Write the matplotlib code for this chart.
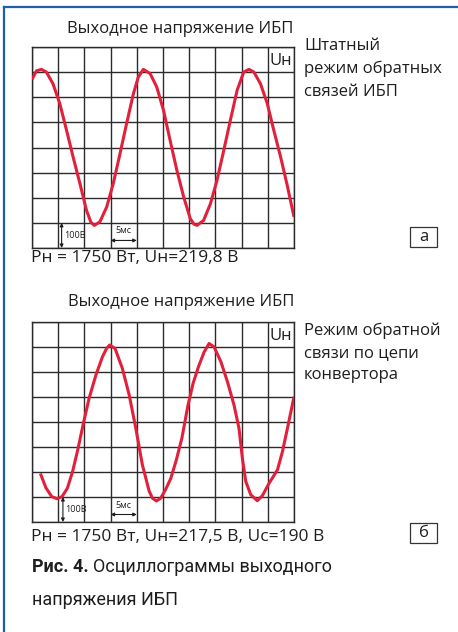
import matplotlib
matplotlib.use("Agg")
import matplotlib.pyplot as plt
from matplotlib.lines import Line2D
from matplotlib.patches import Rectangle

W, H = 458, 632

# curve a (grid units: 10 columns x 8 rows)
xa = [0.0, 0.17, 0.36, 0.55, 0.80, 1.06, 1.32, 1.57, 1.83, 2.08, 2.25, 2.38, 2.59, 2.85, 3.10,
      3.36, 3.61, 3.87, 4.06, 4.25, 4.51, 4.76, 5.02, 5.27, 5.53, 5.79, 6.04, 6.18, 6.30, 6.55,
      6.81, 7.06, 7.32, 7.57, 7.83, 8.08, 8.28, 8.47, 8.72, 8.98, 9.23, 9.49, 9.74, 10.0]
ya = [6.71, 7.05, 7.11, 7.00, 6.54, 5.75, 4.68, 3.62, 2.56, 1.50, 1.02, 0.90, 1.04, 1.63, 2.56,
      3.76, 4.95, 6.14, 6.81, 7.11, 6.94, 6.41, 5.48, 4.29, 3.09, 2.03, 1.17, 0.95, 0.90, 1.10,
      1.76, 2.69, 3.89, 5.08, 6.28, 7.00, 7.11, 7.00, 6.54, 5.75, 4.68, 3.62, 2.50, 1.24]

# curve b
xb = [0.32, 0.53, 0.75, 0.95, 1.15, 1.35, 1.55, 1.75, 1.95, 2.18, 2.44, 2.69, 2.85, 2.97, 3.17,
      3.45, 3.71, 3.96, 4.21, 4.47, 4.60, 4.75, 4.91, 5.10, 5.30, 5.50, 5.72, 5.95, 6.15, 6.35,
      6.57, 6.76, 6.95, 7.21, 7.46, 7.71, 7.90, 8.03, 8.16, 8.35, 8.60, 8.79, 9.05, 9.37, 9.56,
      9.75, 10.0]
yb = [1.94, 1.37, 1.02, 0.93, 1.02, 1.35, 2.02, 2.90, 3.89, 4.95, 5.88, 6.61, 6.95, 7.08, 6.94,
      6.14, 5.08, 3.76, 2.30, 1.24, 0.95, 0.84, 0.95, 1.30, 1.75, 2.45, 3.35, 4.65, 5.55, 6.20,
      6.80, 7.14, 7.00, 6.41, 5.61, 4.68, 3.75, 2.55, 1.62, 1.09, 0.85, 1.05, 1.55, 2.09, 2.82,
      3.75, 5.01]

title = "Выходное напряжение ИБП"
note_a = ["Штатный", "режим обратных", "связей ИБП"]
note_b = ["Режим обратной", "связи по цепи", "конвертора"]
params_a = "Pн = 1750 Вт, Uн=219,8 В"
params_b = "Pн = 1750 Вт, Uн=217,5 В, Uс=190 В"

plt.rcParams['font.family'] = ['Open Sans', 'DejaVu Sans']

fig = plt.figure(figsize=(W / 100, H / 100), dpi=100)


def fx(x):
    return x / W


def fy(y):
    return 1 - y / H


red = '#e3203b'
gridc = '#2b2b2b'
txt = '#1e1e1e'


def scope(top, bottom, xs, ys, x100):
    ax = fig.add_axes([fx(32), fy(bottom), fx(294) - fx(32), fy(top) - fy(bottom)])
    ax.set_xlim(0, 10)
    ax.set_ylim(0, 8)
    ax.set_xticks(range(11))
    ax.set_yticks(range(9))
    ax.tick_params(length=0, labelbottom=False, labelleft=False)
    ax.grid(True, color=gridc, linewidth=1.0)
    for s in ax.spines.values():
        s.set_color(gridc)
        s.set_linewidth(1.0)
    ax.plot(xs, ys, color=red, linewidth=2.2, solid_joinstyle='round', solid_capstyle='butt',
            zorder=3)
    ax.text(9.5, 7.45, "Uн", fontsize=12, ha='center', va='center', color=txt)
    # scale markers
    ax.annotate("", xy=(x100, 0), xytext=(x100, 1),
                arrowprops=dict(arrowstyle='<|-|>', color=txt, lw=0.8,
                                mutation_scale=5, shrinkA=0, shrinkB=0))
    ax.text(x100 + 0.08, 0.5, "100В", fontsize=6.5, ha='left', va='center', color=txt)
    ax.annotate("", xy=(3, 0.3), xytext=(4, 0.3),
                arrowprops=dict(arrowstyle='<|-|>', color=txt, lw=0.8,
                                mutation_scale=5, shrinkA=0, shrinkB=0))
    ax.text(3.5, 0.5, "5мс", fontsize=6.5, ha='center', va='bottom', color=txt)
    return ax


scope(47, 248, xa, ya, 1.13)
scope(322, 522, xb, yb, 1.18)

fig.text(fx(180), fy(29), title, fontsize=12, ha='center', va='center', color=txt)
fig.text(fx(181), fy(302), title, fontsize=12, ha='center', va='center', color=txt)

for i, line in enumerate(note_a):
    fig.text(fx(304), fy(46 + 23 * i), line, fontsize=12, ha='left', va='center', color=txt)
for i, line in enumerate(note_b):
    fig.text(fx(304), fy(331 + 22 * i), line, fontsize=12, ha='left', va='center', color=txt)

fig.text(fx(31), fy(258), params_a, fontsize=12.5, ha='left', va='center', color=txt)
fig.text(fx(31), fy(537), params_b, fontsize=12.5, ha='left', va='center', color=txt)

# letter boxes
for y0, letter in [(227, "а"), (523, "б")]:
    fig.add_artist(Rectangle((fx(410), fy(y0 + 20)), 27 / W, 20 / H, transform=fig.transFigure,
                             facecolor='white', edgecolor='#333333', linewidth=0.9))
    fig.text(fx(423.5), fy(y0 + 10), letter, fontsize=12, ha='center', va='center', color=txt)

# caption
cap1 = fig.text(fx(32), fy(567), "Рис. 4.", fontsize=13, fontweight='bold', family='Roboto',
                ha='left', va='center', color=txt)
fig.canvas.draw()
bb = cap1.get_window_extent()
fig.text(fx(bb.x1 + 4), fy(567), "Осциллограммы выходного", fontsize=13, family='Roboto',
         ha='left', va='center', color=txt)
fig.text(fx(32), fy(600), "напряжения ИБП", fontsize=13, family='Roboto',
         ha='left', va='center', color=txt)

# blue frame (top and left edges)
blue = '#1f5ea8'
fig.add_artist(Line2D([fx(4), 1], [fy(7), fy(7)], transform=fig.transFigure, color=blue,
                      linewidth=1.6))
fig.add_artist(Line2D([fx(4), fx(4)], [fy(7), 0], transform=fig.transFigure, color=blue,
                      linewidth=1.6))

fig.savefig('out.png', dpi=100)
